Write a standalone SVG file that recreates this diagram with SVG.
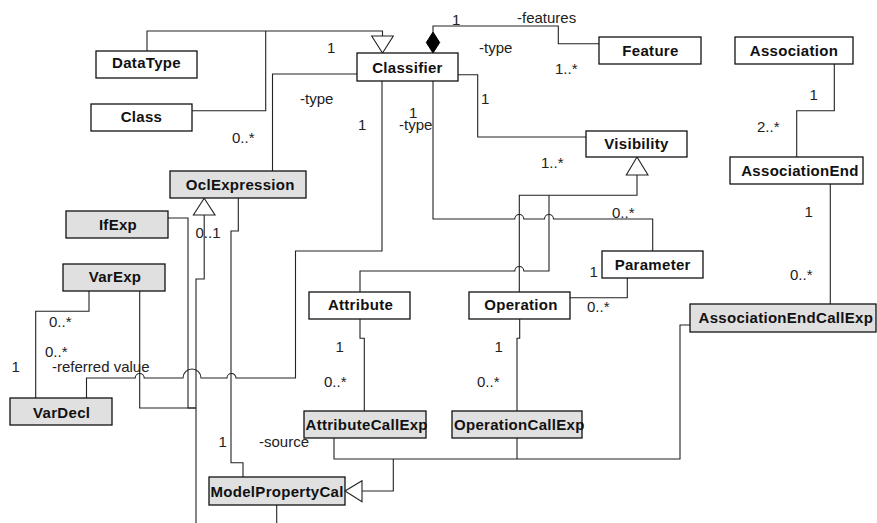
<svg xmlns="http://www.w3.org/2000/svg" width="877" height="523" viewBox="0 0 877 523">
<style>
.box{fill:#ffffff;stroke:#111;stroke-width:1.3}
.gbox{fill:#e0e0e0;stroke:#111;stroke-width:1.3}
.name{font-family:"Liberation Sans",Arial,sans-serif;font-size:15px;font-weight:bold;fill:#111;letter-spacing:0.3px}
.c{text-anchor:middle}
.lbl{font-family:"Liberation Sans",Arial,sans-serif;font-size:15px;fill:#222}
.ln{fill:none;stroke:#222;stroke-width:1.1}
.hollow{fill:#ffffff;stroke:#222;stroke-width:1.1}
.solid{fill:#000;stroke:#000;stroke-width:1}
</style>
<rect width="877" height="523" fill="#ffffff"/>
<g id="connectors">
<path class="ln" d="M147 51 V31 H382.5 V36"/>
<path class="ln" d="M192 110.7 H265.7 V31"/>
<polygon class="hollow" points="371.7,36 393.3,36 382.5,53"/>
<path class="ln" d="M433 32 V26 H558.3 V43.7 H599"/>
<polygon class="solid" points="433,32 439.7,42.5 433,53 426.3,42.5"/>
<path class="ln" d="M458 74.7 H477.7 V137 H586"/>
<path class="ln" d="M357 74 H272.5 V171"/>
<path class="ln" d="M382 81 V251 H295.5 V378 H236 A4.5 4.5 0 0 0 227 378 H201 A9 9 0 0 0 183 378 H144.2 A4.5 4.5 0 0 0 135.2 378 H86.5 V398"/>
<path class="ln" d="M433 81 V219 H514.8 A4.5 4.5 0 0 1 523.8 219 H544.5 A4.5 4.5 0 0 1 553.5 219 H652.7 V251"/>
<path class="ln" d="M637 175 V195.3 H519.3 V292"/>
<path class="ln" d="M549 195.3 V271 H523.8 A4.5 4.5 0 0 0 514.8 271 H360 V292"/>
<polygon class="hollow" points="637,157 648,175 626.3,175"/>
<path class="ln" d="M570 297.7 H627.3 V278"/>
<path class="ln" d="M834.3 64 V110.7 H796.7 V157"/>
<path class="ln" d="M830.3 184 V304"/>
<path class="ln" d="M690 325 H680 V459 H334 V438"/>
<path class="ln" d="M517 438 V459"/>
<path class="ln" d="M393.3 459 V491 H362"/>
<path class="ln" d="M360 319 V338.3 H364.3 V411"/>
<path class="ln" d="M519.7 319 V338.3 H517 V411"/>
<path class="ln" d="M204.2 215 V279 H196 V523"/>
<polygon class="hollow" points="204.2,198.3 215,215 193.4,215"/>
<path class="ln" d="M168 218 H188 V408 H196"/>
<path class="ln" d="M139.7 291 V408 H196"/>
<path class="ln" d="M238.3 198 V231 H231 V462.7 H243 V477"/>
<path class="ln" d="M276.7 505 V523"/>
<path class="ln" d="M89 291 V311.3 H35.7 V398"/>
</g>
<g id="labels" class="lbl">
<text x="327" y="53">1</text>
<text x="300" y="104">-type</text>
<text x="358" y="130">1</text>
<text x="409" y="117.5">1</text>
<text x="399" y="130">-type</text>
<text x="452" y="25">1</text>
<text x="517" y="23">-features</text>
<text x="479" y="52.5">-type</text>
<text x="555" y="74">1..*</text>
<text x="481" y="104">1</text>
<text x="232" y="143">0..*</text>
<text x="809.5" y="100">1</text>
<text x="757" y="131.5">2..*</text>
<text x="541" y="168">1..*</text>
<text x="612" y="217.5">0..*</text>
<text x="589.5" y="277">1</text>
<text x="587" y="312">0..*</text>
<text x="804.5" y="217">1</text>
<text x="790" y="280">0..*</text>
<text x="195.5" y="238">0..1</text>
<text x="49" y="326.5">0..*</text>
<text x="45" y="356.5">0..*</text>
<text x="11.5" y="372">1</text>
<text x="52" y="371.5">-referred value</text>
<text x="218.5" y="446.5">1</text>
<text x="259" y="446.5">-source</text>
<text x="335.5" y="352">1</text>
<text x="324" y="386.5">0..*</text>
<text x="494.5" y="352">1</text>
<text x="477" y="386.5">0..*</text>
</g>
<g id="DataType"><rect class="box" x="96" y="51" width="101" height="27"/><text class="name c" x="146.5" y="68">DataType</text></g>
<g id="Class"><rect class="box" x="91" y="104" width="101" height="27"/><text class="name c" x="141.5" y="122">Class</text></g>
<g id="Classifier"><rect class="box" x="357" y="53" width="101" height="28"/><text class="name c" x="407.5" y="72.5">Classifier</text></g>
<g id="Feature"><rect class="box" x="599" y="37" width="102" height="27"/><text class="name c" x="650.5" y="55.5">Feature</text></g>
<g id="Association"><rect class="box" x="735" y="37" width="118" height="27"/><text class="name c" x="794" y="56">Association</text></g>
<g id="AssociationEnd"><rect class="box" x="730" y="157" width="133" height="27"/><text class="name c" x="800" y="175.5">AssociationEnd</text></g>
<g id="Visibility"><rect class="box" x="586" y="131" width="101" height="26"/><text class="name c" x="636.5" y="148.5">Visibility</text></g>
<g id="Parameter"><rect class="box" x="602" y="251" width="101" height="27"/><text class="name c" x="652.7" y="270">Parameter</text></g>
<g id="Attribute"><rect class="box" x="309" y="292" width="101" height="27"/><text class="name c" x="360.5" y="310">Attribute</text></g>
<g id="Operation"><rect class="box" x="469" y="292" width="101" height="27"/><text class="name c" x="521" y="310">Operation</text></g>
<g id="AssociationEndCallExp"><rect class="gbox" x="690" y="304" width="186" height="28"/><text class="name" x="698.5" y="322.5">AssociationEndCallExp</text></g>
<g id="OclExpression"><rect class="gbox" x="170" y="171" width="136" height="27"/><text class="name c" x="240.3" y="189.5">OclExpression</text></g>
<g id="IfExp"><rect class="gbox" x="66" y="211" width="102" height="27"/><text class="name c" x="118" y="230">IfExp</text></g>
<g id="VarExp"><rect class="gbox" x="63" y="264" width="102" height="27"/><text class="name c" x="115" y="282">VarExp</text></g>
<g id="VarDecl"><rect class="gbox" x="10" y="398" width="102" height="27"/><text class="name c" x="61.7" y="417.5">VarDecl</text></g>
<g id="AttributeCallExp"><rect class="gbox" x="304" y="411" width="122" height="27"/><text class="name" x="305.5" y="430">AttributeCallExp</text></g>
<g id="OperationCallExp"><rect class="gbox" x="452" y="411" width="130" height="27"/><text class="name" x="454" y="430">OperationCallExp</text></g>
<g id="ModelPropertyCallExp"><rect class="gbox" x="209" y="477" width="136" height="28"/><text class="name" x="210.5" y="496.5">ModelPropertyCal</text><polygon class="hollow" points="345,491 362,480.7 362,501.7"/></g>
</svg>
